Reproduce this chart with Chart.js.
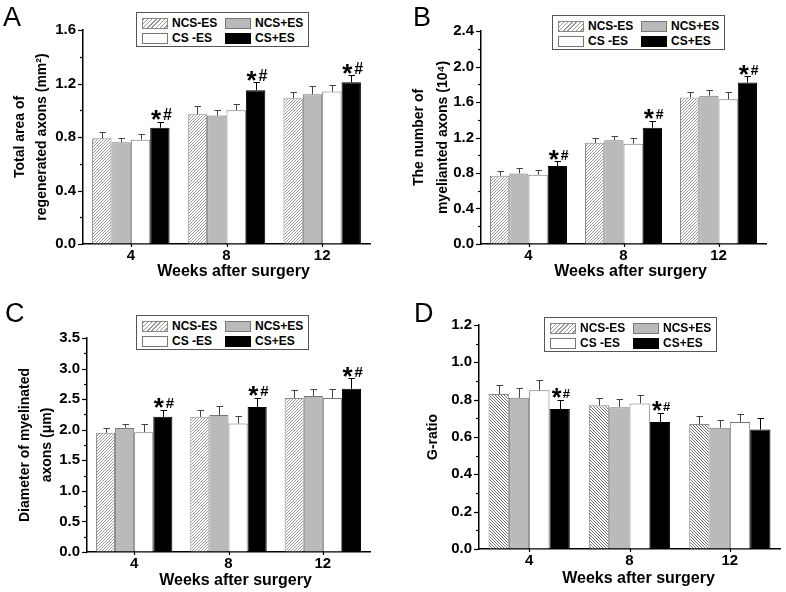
<!DOCTYPE html>
<html><head><meta charset="utf-8">
<script src="https://cdn.jsdelivr.net/npm/chart.js@4.4.1/dist/chart.umd.min.js"></script>
<style>
html,body{margin:0;padding:0;background:#fff;}
body{width:786px;height:592px;position:relative;overflow:hidden;font-family:"Liberation Sans",Arial,sans-serif;}
canvas{position:absolute;}
.letter{position:absolute;font-size:27px;line-height:27px;color:#000;font-family:"Liberation Sans",Arial,sans-serif;}
.legend{position:absolute;width:171px;height:33px;border:1px solid #555;background:#fff;font-weight:bold;font-size:12px;color:#000;}
.sw{position:absolute;width:24px;height:9px;}
.lt{position:absolute;height:13px;line-height:13px;white-space:nowrap;}
</style></head>
<body>
<canvas id="cA" width="393" height="296" style="left:0;top:0"></canvas>
<canvas id="cB" width="393" height="296" style="left:393px;top:0"></canvas>
<canvas id="cC" width="393" height="296" style="left:0;top:296px"></canvas>
<canvas id="cD" width="393" height="296" style="left:393px;top:296px"></canvas>
<div class="letter" style="left:3px;top:4px">A</div>
<div class="letter" style="left:413px;top:4px">B</div>
<div class="letter" style="left:5px;top:300px">C</div>
<div class="letter" style="left:414px;top:300px">D</div>
<script>
// ---- shared categories / series ----
const weeks = ['4', '8', '12'];
const groupNames = ['NCS-ES', 'NCS+ES', 'CS -ES', 'CS+ES'];
const xTitle = 'Weeks after surgery';

// ---- Panel A: total area of regenerated axons ----
const areaTitle = ['Total area of', 'regenerated axons (mm²)'];
const areaTicks = [0.0, 0.4, 0.8, 1.2, 1.6];
const areaNcsMinus = [0.79, 0.97, 1.09];
const areaNcsPlus  = [0.76, 0.96, 1.12];
const areaCsMinus  = [0.78, 1.00, 1.14];
const areaCsPlus   = [0.87, 1.15, 1.21];
const areaErrors   = [[0.045, 0.06, 0.045], [0.035, 0.045, 0.06], [0.045, 0.05, 0.05], [0.045, 0.06, 0.05]];
const areaMarks    = ['*#', '*#', '*#'];

// ---- Panel B: number of myelinated axons ----
const numTitle = ['The number of', 'myelianted axons (10⁴)'];
const numTicks = [0.0, 0.4, 0.8, 1.2, 1.6, 2.0, 2.4];
const numNcsMinus = [0.77, 1.14, 1.65];
const numNcsPlus  = [0.795, 1.17, 1.67];
const numCsMinus  = [0.78, 1.13, 1.63];
const numCsPlus   = [0.88, 1.31, 1.82];
const numErrors   = [[0.055, 0.06, 0.06], [0.06, 0.05, 0.07], [0.055, 0.06, 0.08], [0.05, 0.08, 0.07]];
const numMarks    = ['*#', '*#', '*#'];

// ---- Panel C: diameter of myelinated axons ----
const diaTitle = ['Diameter of myelinated', 'axons (μm)'];
const diaTicks = [0.0, 0.5, 1.0, 1.5, 2.0, 2.5, 3.0, 3.5];
const diaNcsMinus = [1.95, 2.21, 2.52];
const diaNcsPlus  = [2.03, 2.24, 2.55];
const diaCsMinus  = [1.96, 2.10, 2.52];
const diaCsPlus   = [2.21, 2.37, 2.67];
const diaErrors   = [[0.08, 0.12, 0.13], [0.06, 0.15, 0.12], [0.13, 0.12, 0.14], [0.12, 0.15, 0.17]];
const diaMarks    = ['*#', '*#', '*#'];

// ---- Panel D: G-ratio ----
const gTitle = ['G-ratio'];
const gTicks = [0.0, 0.2, 0.4, 0.6, 0.8, 1.0, 1.2];
const gNcsMinus = [0.83, 0.77, 0.67];
const gNcsPlus  = [0.81, 0.76, 0.65];
const gCsMinus  = [0.85, 0.78, 0.68];
const gCsPlus   = [0.75, 0.68, 0.64];
const gErrors   = [[0.05, 0.04, 0.045], [0.05, 0.045, 0.04], [0.055, 0.045, 0.045], [0.05, 0.05, 0.06]];
const gMarks    = ['*#', '*#', ''];

const FONT = '"Liberation Sans", Arial, sans-serif';

function hatch(dir, color, gap) {
  const c = document.createElement('canvas');
  c.width = gap; c.height = gap;
  const g = c.getContext('2d');
  g.fillStyle = '#fff'; g.fillRect(0, 0, gap, gap);
  g.strokeStyle = color; g.lineWidth = 1;
  g.beginPath();
  for (const k of [-gap, 0, gap]) {
    if (dir === '/') { g.moveTo(k, gap); g.lineTo(k + gap, 0); }
    else { g.moveTo(k, 0); g.lineTo(k + gap, gap); }
  }
  g.stroke();
  return g.createPattern(c, 'repeat');
}

const decorPlugin = {
  id: 'decor',
  afterDraw(chart) {
    const o = chart.options.plugins.decor;
    const ctx = chart.ctx;
    const ca = chart.chartArea;
    const ys = chart.scales.y, xs = chart.scales.x;
    ctx.save();
    // y ticks (major + minor), outward
    ctx.strokeStyle = '#000'; ctx.lineWidth = 1.2;
    const t = o.ticks;
    const step = t[1] - t[0];
    for (let i = 0; i < t.length; i++) {
      const yv = Math.round(ys.getPixelForValue(t[i])) + 0.5;
      ctx.beginPath(); ctx.moveTo(ca.left - 5, yv); ctx.lineTo(ca.left, yv); ctx.stroke();
      if (i < t.length - 1) {
        const ym = Math.round(ys.getPixelForValue(t[i] + step / 2)) + 0.5;
        ctx.beginPath(); ctx.moveTo(ca.left - 3, ym); ctx.lineTo(ca.left, ym); ctx.stroke();
      }
    }
    // x ticks at category centres
    for (let j = 0; j < weeks.length; j++) {
      const xv = Math.round(xs.getPixelForValue(j)) + 0.5;
      ctx.beginPath(); ctx.moveTo(xv, ca.bottom); ctx.lineTo(xv, ca.bottom + 3); ctx.stroke();
    }
    // error bars
    chart.data.datasets.forEach((ds, i) => {
      const meta = chart.getDatasetMeta(i);
      ctx.strokeStyle = ds.errColor; ctx.lineWidth = 1;
      meta.data.forEach((bar, j) => {
        const top = Math.round(ys.getPixelForValue(ds.data[j] + ds.errors[j])) + 0.5;
        const x = Math.round(bar.x) + 0.5;
        ctx.beginPath();
        ctx.moveTo(x, bar.y); ctx.lineTo(x, top);
        ctx.moveTo(x - 3, top); ctx.lineTo(x + 3.5, top);
        ctx.stroke();
      });
    });
    // significance marks over CS+ES
    const last = chart.data.datasets[3];
    const lm = chart.getDatasetMeta(3);
    ctx.fillStyle = '#000';
    ctx.textAlign = 'left'; ctx.textBaseline = 'alphabetic';
    o.marks.forEach((mk, j) => {
      if (!mk) return;
      const bar = lm.data[j];
      const bottom = ys.getPixelForValue(last.data[j] + last.errors[j]) - 1.5;
      const star = mk[0], hash = mk.slice(1);
      ctx.font = 'bold ' + o.starSize + 'px ' + FONT;
      const ms = ctx.measureText(star);
      ctx.font = 'bold ' + o.hashSize + 'px ' + FONT;
      const mh = ctx.measureText(hash);
      const ws = ms.actualBoundingBoxLeft + ms.actualBoundingBoxRight;
      const wh = mh.actualBoundingBoxLeft + mh.actualBoundingBoxRight;
      const total = ws + 1 + wh;
      const left = bar.x + 1.5 - total / 2;
      ctx.font = 'bold ' + o.starSize + 'px ' + FONT;
      ctx.fillText(star, left + ms.actualBoundingBoxLeft, bottom - ms.actualBoundingBoxDescent);
      ctx.font = 'bold ' + o.hashSize + 'px ' + FONT;
      ctx.fillText(hash, left + ws + 1 + mh.actualBoundingBoxLeft, bottom - mh.actualBoundingBoxDescent);
    });
    // x title
    ctx.font = 'bold 16px ' + FONT;
    ctx.textAlign = 'center'; ctx.textBaseline = 'middle';
    ctx.fillText(xTitle, (ca.left + ca.right) / 2 + o.xTitleDx, chart.height - o.xTitleOffset);
    ctx.restore();
  }
};

function makePanel(id, cfg) {
  const canvas = document.getElementById(id);
  const W = 393, H = 296;
  const fills = [cfg.pattern, '#bababa', '#ffffff', '#000000'];
  const borders = ['#8a8a8a', '#777777', '#777777', '#000000'];
  const errColors = ['#444', '#444', '#444', '#000'];
  const datasets = groupNames.map((name, i) => ({
    label: name,
    data: cfg.series[i],
    errors: cfg.errors[i],
    errColor: errColors[i],
    backgroundColor: fills[i],
    borderColor: borders[i],
    borderWidth: 1,
    borderSkipped: 'start',
    categoryPercentage: 0.81,
    barPercentage: 1.0
  }));
  new Chart(canvas, {
    type: 'bar',
    data: { labels: weeks, datasets },
    options: {
      responsive: false, animation: false, devicePixelRatio: 1,
      layout: { padding: { top: cfg.area.top, right: W - cfg.area.right, left: 0, bottom: 0 } },
      plugins: {
        legend: { display: false }, tooltip: { enabled: false },
        decor: { ticks: cfg.ticks, marks: cfg.marks, starSize: cfg.starSize, hashSize: cfg.hashSize,
                 xTitleDx: cfg.xTitleDx, xTitleOffset: cfg.xTitleOffset }
      },
      scales: {
        x: {
          type: 'category', offset: true,
          grid: { drawOnChartArea: false, drawTicks: false },
          border: { display: true, color: '#000', width: 1.5 },
          ticks: { color: '#000', font: { family: FONT, size: 15, weight: 'bold' }, padding: 3 },
          afterFit: s => { s.height = H - cfg.area.bottom; }
        },
        y: {
          type: 'linear', min: cfg.ticks[0], max: cfg.ticks[cfg.ticks.length - 1],
          grid: { drawOnChartArea: false, drawTicks: false },
          border: { display: true, color: '#000', width: 1.5 },
          afterBuildTicks: s => { s.ticks = cfg.ticks.map(v => ({ value: v })); },
          ticks: { color: '#000', font: { family: FONT, size: 15, weight: 'bold' }, padding: 7,
                   callback: v => Number(v).toFixed(1) },
          title: { display: true, text: cfg.title, color: '#000',
                   font: { family: FONT, size: 14, weight: 'bold', lineHeight: cfg.titleLH + 'px' },
                   padding: { top: cfg.titlePad, bottom: 0 } },
          afterFit: s => { s.width = cfg.area.left; }
        }
      }
    },
    plugins: [decorPlugin]
  });
}

function makeLegend(left, top) {
  const box = document.createElement('div');
  box.className = 'legend';
  box.style.left = left + 'px'; box.style.top = top + 'px';
  const swatchStyles = [
    'background:repeating-linear-gradient(135deg,#9a9a9a 0 1px,#fff 1px 3px);border:1px solid #888;',
    'background:#bababa;border:1px solid #777;',
    'background:#fff;border:1px solid #777;',
    'background:#000;border:1px solid #000;'
  ];
  groupNames.forEach((name, i) => {
    const col = i % 2, row = Math.floor(i / 2);
    const sw = document.createElement('div');
    sw.className = 'sw';
    sw.style.cssText = swatchStyles[i] + 'left:' + (5 + col * 83) + 'px;top:' + (5 + row * 15) + 'px;';
    const tx = document.createElement('div');
    tx.className = 'lt';
    tx.style.left = (35 + col * 83) + 'px'; tx.style.top = (4 + row * 15) + 'px';
    tx.textContent = name;
    box.appendChild(sw); box.appendChild(tx);
  });
  document.body.appendChild(box);
}

const hatchFwd = hatch('/', '#9a9a9a', 3);
const hatchBack = hatch('\\', '#707070', 3);

makePanel('cA', {
  series: [areaNcsMinus, areaNcsPlus, areaCsMinus, areaCsPlus], errors: areaErrors, marks: areaMarks,
  ticks: areaTicks, title: areaTitle, titleLH: 22, titlePad: 9, pattern: hatchFwd,
  area: { left: 83, top: 30, right: 370, bottom: 244 }, starSize: 26, hashSize: 16,
  xTitleDx: 7, xTitleOffset: 24
});
makePanel('cB', {
  series: [numNcsMinus, numNcsPlus, numCsMinus, numCsPlus], errors: numErrors, marks: numMarks,
  ticks: numTicks, title: numTitle, titleLH: 24, titlePad: 14, pattern: hatchFwd,
  area: { left: 88, top: 31, right: 373, bottom: 244 }, starSize: 26, hashSize: 14,
  xTitleDx: 7, xTitleOffset: 24
});
makePanel('cC', {
  series: [diaNcsMinus, diaNcsPlus, diaCsMinus, diaCsPlus], errors: diaErrors, marks: diaMarks,
  ticks: diaTicks, title: diaTitle, titleLH: 22, titlePad: 14, pattern: hatchFwd,
  area: { left: 87, top: 42, right: 370, bottom: 256 }, starSize: 26, hashSize: 15,
  xTitleDx: 7, xTitleOffset: 11
});
makePanel('cD', {
  series: [gNcsMinus, gNcsPlus, gCsMinus, gCsPlus], errors: gErrors, marks: gMarks,
  ticks: gTicks, title: gTitle, titleLH: 22, titlePad: 29, pattern: hatchBack,
  area: { left: 86, top: 29, right: 387, bottom: 253 }, starSize: 25, hashSize: 13,
  xTitleDx: 9, xTitleOffset: 13
});

makeLegend(136, 12);
makeLegend(552, 15);
makeLegend(136, 315);
makeLegend(544, 317);
</script>
</body></html>
